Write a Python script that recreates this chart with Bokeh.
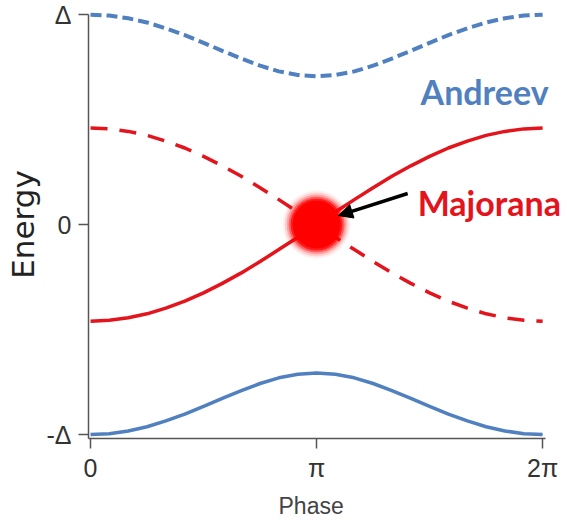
from bokeh.plotting import figure
from bokeh.models import Range1d, FixedTicker, Label, Arrow, NormalHead, Title
from bokeh.embed import file_html
from bokeh.resources import INLINE

# Phase in units of pi
phase = [0.0, 0.083, 0.167, 0.25, 0.333, 0.417, 0.5, 0.583, 0.667, 0.75, 0.833, 0.917,
         1.0, 1.083, 1.167, 1.25, 1.333, 1.417, 1.5, 1.583, 1.667, 1.75, 1.833, 1.917, 2.0]
andreev_upper = [1.00, 0.996, 0.983, 0.963, 0.935, 0.903, 0.866, 0.828, 0.791, 0.757, 0.730, 0.713,
                 0.707, 0.713, 0.730, 0.757, 0.791, 0.828, 0.866, 0.903, 0.935, 0.963, 0.983, 0.996, 1.00]
andreev_lower = [-1.00, -0.996, -0.983, -0.963, -0.935, -0.903, -0.866, -0.828, -0.791, -0.757, -0.730, -0.713,
                 -0.707, -0.713, -0.730, -0.757, -0.791, -0.828, -0.866, -0.903, -0.935, -0.963, -0.983, -0.996, -1.00]
majorana_dashed = [0.46, 0.456, 0.444, 0.425, 0.398, 0.365, 0.325, 0.280, 0.230, 0.176, 0.119, 0.060,
                   0.0, -0.060, -0.119, -0.176, -0.230, -0.280, -0.325, -0.365, -0.398, -0.425, -0.444, -0.456, -0.46]
majorana_solid = [-0.46, -0.456, -0.444, -0.425, -0.398, -0.365, -0.325, -0.280, -0.230, -0.176, -0.119, -0.060,
                  0.0, 0.060, 0.119, 0.176, 0.230, 0.280, 0.325, 0.365, 0.398, 0.425, 0.444, 0.456, 0.46]
crossing = [1.0, 0.0]  # zero-energy Majorana crossing (phase, energy)

x_ticks = [0, 1, 2]
x_tick_labels = ["0", "π", "2π"]
y_ticks = [-1, 0, 1]
y_tick_labels = ["-Δ", "0", "Δ"]

BLUE = "#5080c0"
RED = "#e3141c"

X0, X1, XF = -0.009, 2.013, 2.11
Y0, Y1, YF = -1.019, 1.0, 1.02

p = figure(width=567, height=528, output_backend="svg", toolbar_location=None,
           x_range=Range1d(X0, XF), y_range=Range1d(Y0, YF),
           min_border_left=88, min_border_right=0, min_border_top=10, min_border_bottom=90)
p.outline_line_color = None
p.grid.visible = False
p.background_fill_color = "white"
p.border_fill_color = "white"

p.line(phase, andreev_upper, line_color=BLUE, line_width=4, line_dash="11 5")
p.line(phase, andreev_lower, line_color=BLUE, line_width=3.5)
p.line(phase, majorana_dashed, line_color=RED, line_width=3.5, line_dash="17 12")
p.line(phase, majorana_solid, line_color=RED, line_width=3.5)

# blurred red dot
for size, alpha in [(68, 0.06), (64, 0.12), (60, 0.22), (56, 0.4), (52, 0.7), (48, 1.0)]:
    p.scatter([crossing[0]], [crossing[1]], size=size, fill_color="#ff0000",
              fill_alpha=alpha, line_color=None)

p.add_layout(Arrow(end=NormalHead(size=14, fill_color="black", line_color="black"),
                   x_start=1.403, y_start=0.148, x_end=1.097, y_end=0.043,
                   line_width=3.5, line_color="black"))

p.add_layout(Label(x=1.46, y=0.633, text="Andreev", text_font="Lato", text_font_style="bold",
                   text_font_size="34px", text_color=BLUE, text_align="left",
                   text_baseline="alphabetic"))
p.add_layout(Label(x=1.447, y=0.105, text="Majorana", text_font="Lato", text_font_style="bold",
                   text_font_size="34px", text_color=RED, text_align="left",
                   text_baseline="alphabetic"))

for ax in (p.xaxis[0], p.yaxis[0]):
    ax.axis_line_color = "#555555"
    ax.axis_line_width = 1.5
    ax.major_tick_line_color = "#555555"
    ax.major_tick_line_width = 1.5
    ax.major_tick_out = 10
    ax.major_tick_in = 0
    ax.minor_tick_line_color = None
    ax.major_label_text_font = "Liberation Sans"
    ax.major_label_text_font_size = "25px"
    ax.major_label_text_color = "#333333"

p.xaxis.bounds = (X0, X1)
p.yaxis.bounds = (Y0, Y1)
p.xaxis.major_label_standoff = 5
p.yaxis.major_label_standoff = 7

p.xaxis.ticker = FixedTicker(ticks=x_ticks)
p.xaxis.major_label_overrides = {t: l for t, l in zip(x_ticks, x_tick_labels)}
p.yaxis.ticker = FixedTicker(ticks=y_ticks)
p.yaxis.major_label_overrides = {t: l for t, l in zip(y_ticks, y_tick_labels)}

# x-axis title placed under the axis (centred on the 0..2π span)
p.add_layout(Title(text="Phase", align="left", offset=190, text_font="Liberation Sans",
                   text_font_style="normal", text_font_size="23px", text_color="#444444",
                   standoff=13), "below")

p.yaxis.axis_label = "Energy"
p.yaxis.axis_label_text_font = "DejaVu Sans"
p.yaxis.axis_label_text_font_style = "normal"
p.yaxis.axis_label_text_font_size = "31px"
p.yaxis.axis_label_text_color = "#222222"
p.yaxis.axis_label_standoff = 2

open("out.html", "w").write(file_html(p, INLINE))
